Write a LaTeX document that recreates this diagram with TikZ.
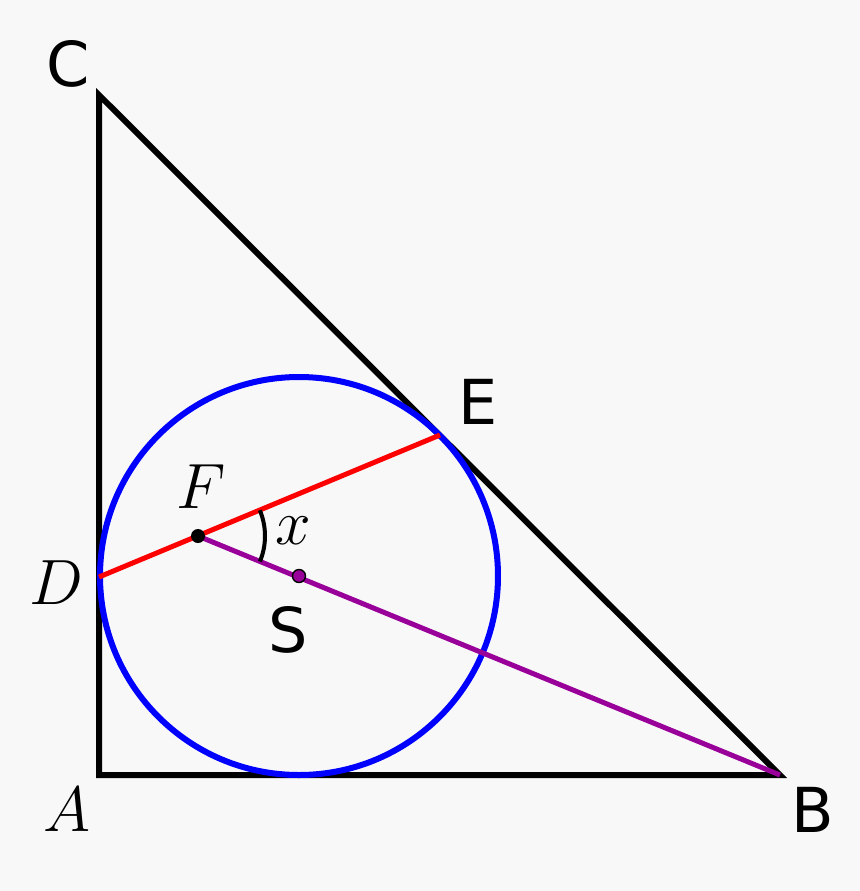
\documentclass[tikz,border=0pt]{standalone}
\usepackage{fix-cm}
\usepackage{fontspec}
\usepackage{tikz}
\newfontfamily\ptfont{DejaVu Sans}
\definecolor{bgcol}{RGB}{248,248,248}
\definecolor{segpurple}{RGB}{153,0,153}
\tikzset{
  side/.style={line width=3pt, line join=miter},
  incircle/.style={blue, line width=3pt},
  chord/.style={red, line width=2.5pt},
  segline/.style={segpurple, line width=2.5pt},
  sanslbl/.style={inner sep=0pt, font=\ptfont\fontsize{31}{36}\selectfont},
  mathlbl/.style={inner sep=0pt, font=\fontsize{32}{38}\selectfont}
}

\begin{document}
\begin{tikzpicture}[x=0.5pt,y=0.5pt,yscale=-1,xscale=1]
%background, sets the size
\fill[bgcol] (0,0) rectangle (860,891);
\useasboundingbox (0,0) rectangle (860,891);

%Points
\coordinate (A) at (99,775);
\coordinate (B) at (780,775);
\coordinate (C) at (99,95);
\coordinate (S) at (299,576);
\coordinate (D) at (99,577);
\coordinate (E) at (440,435);
\coordinate (F) at (198,536);

%Shape: Triangle
\draw[side] (A) -- (B) -- (C) -- cycle;
%Shape: Circle
\draw[incircle] (S) circle [radius=199];
%Straight Lines
\draw[chord] (D) -- (E);
\draw[segline] (F) -- (B);
%Shape: Arc
\draw[line width=2pt] ([shift={(-22.6:67)}]F) arc [start angle=-22.6, end angle=22.3, radius=67];
%Dots
\fill (F) circle [radius=7];
\draw[fill=segpurple, line width=0.7pt] (S) circle [radius=6.5];

% Text Node
\node[sanslbl] (labC) at (68,64) {C};
\node[sanslbl] (labE) at (478,402) {E};
\node[sanslbl] (labB) at (813,810) {B};
\node[sanslbl] (labS) at (288,630) {S};
\node[mathlbl] (labD) at (56,583) {$D$};
\node[mathlbl] (labA) at (67,810) {$A$};
\node[mathlbl] (labF) at (201,487) {$F$};
\node[mathlbl] (labx) at (293,531) {$x$};
\end{tikzpicture}
\end{document}
